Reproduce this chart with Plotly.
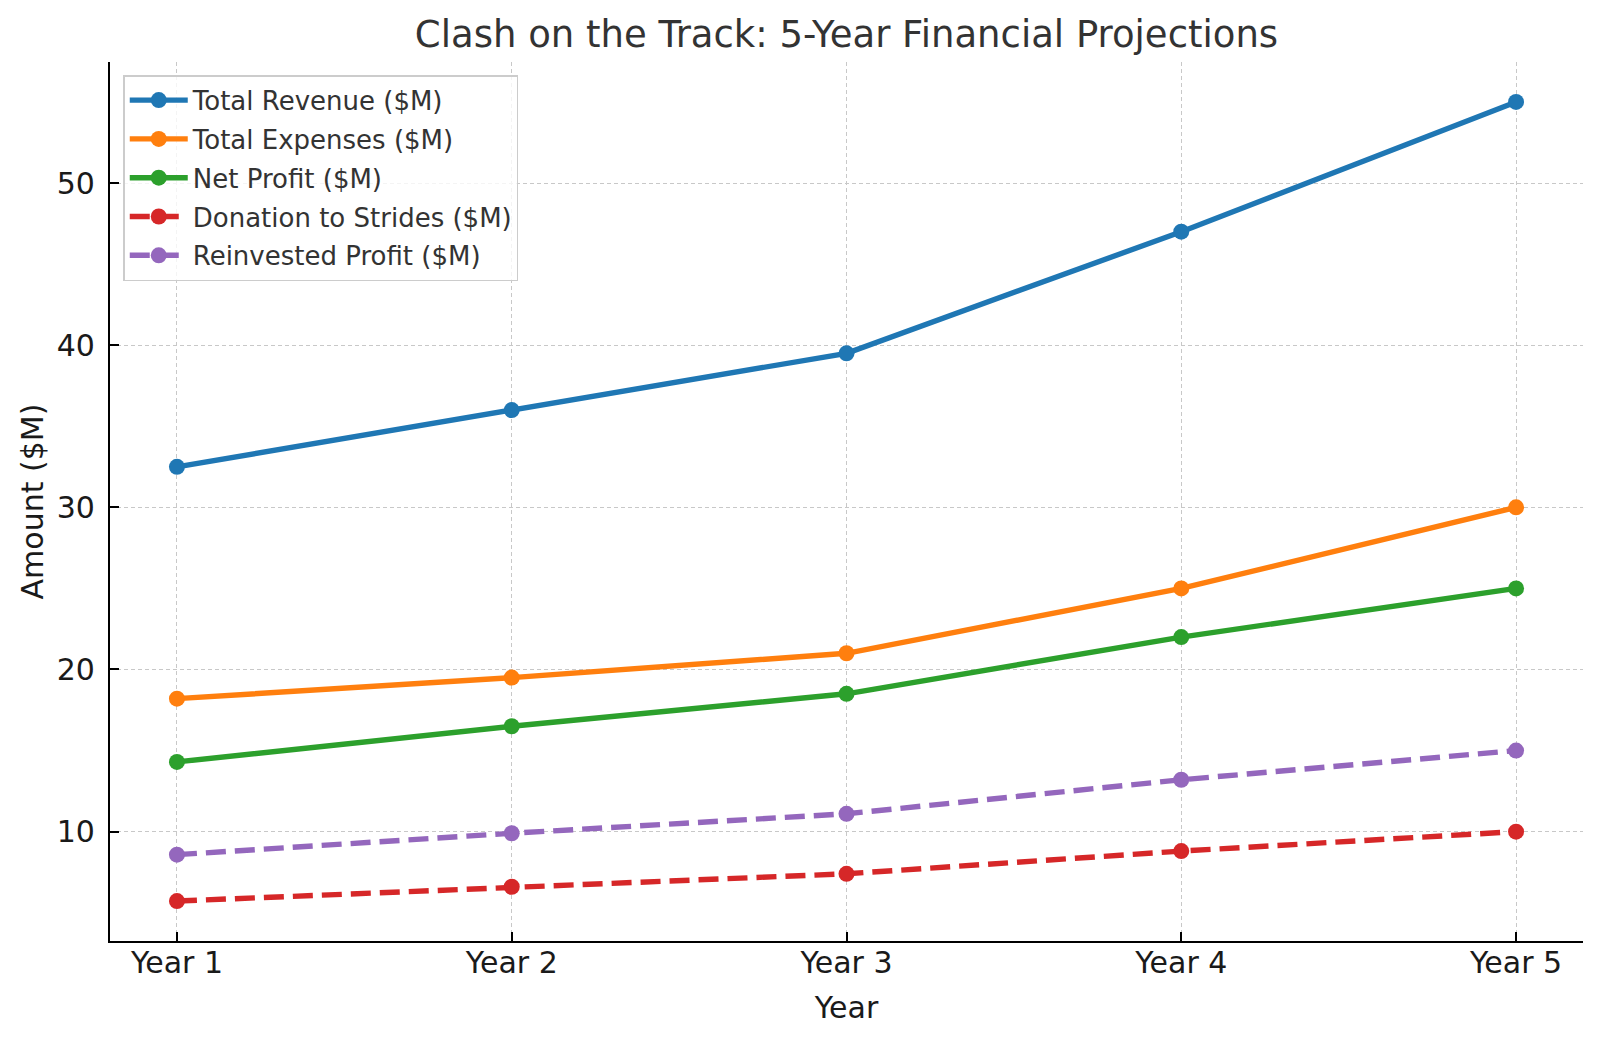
import plotly.graph_objects as go

years = ["Year 1", "Year 2", "Year 3", "Year 4", "Year 5"]
total_revenue = [32.5, 36.0, 39.5, 47.0, 55.0]
total_expenses = [18.2, 19.5, 21.0, 25.0, 30.0]
net_profit = [14.3, 16.5, 18.5, 22.0, 25.0]
donation = [5.72, 6.6, 7.4, 8.8, 10.0]
reinvested = [8.58, 9.9, 11.1, 13.2, 15.0]

series = [
    ("Total Revenue ($M)", total_revenue, "#1f77b4", "solid"),
    ("Total Expenses ($M)", total_expenses, "#ff7f0e", "solid"),
    ("Net Profit ($M)", net_profit, "#2ca02c", "solid"),
    ("Donation to Strides ($M)", donation, "#d62728", "dash"),
    ("Reinvested Profit ($M)", reinvested, "#9467bd", "dash"),
]

fig = go.Figure()
for name, vals, color, dash in series:
    fig.add_trace(go.Scatter(
        x=list(range(len(years))), y=vals, name=name, mode="lines+markers",
        legendgroup=name,
        line=dict(color=color, width=5.4, dash="solid" if dash == "solid" else "20px,9px"),
        marker=dict(color=color, size=16),
    ))

font = "DejaVu Sans"
L, R, T, B = 110, 17, 62, 99
fig.update_layout(
    width=1600, height=1040,
    paper_bgcolor="white", plot_bgcolor="white",
    margin=dict(l=L, r=R, t=T, b=B),
    title=dict(text="Clash on the Track: 5-Year Financial Projections",
               x=(L + 1600 - R) / 2 / 1600, xanchor="center", y=1 - 34 / 1040, yanchor="middle",
               font=dict(family=font, size=37, color="#333333")),
    font=dict(family=font, color="#262626"),
    legend=dict(x=0.009, y=0.985, xanchor="left", yanchor="top",
                bgcolor="rgba(255,255,255,0.8)", bordercolor="#cccccc", borderwidth=1.5,
                font=dict(family=font, size=26, color="#333333"),
                itemwidth=58, tracegroupgap=2),
    showlegend=True,
)
axis_common = dict(
    showline=True, linecolor="black", linewidth=2.2, mirror=False,
    ticks="inside", ticklen=9, tickwidth=2.2, tickcolor="black",
    tickfont=dict(family=font, size=30, color="#1a1a1a"),
    showgrid=True, gridcolor="#c8c8c8", griddash="4px,3px", gridwidth=1.3,
    zeroline=False,
)
fig.update_xaxes(
    range=[-0.2, 4.2], tickmode="array", tickvals=list(range(len(years))), ticktext=years,
    ticklabelstandoff=-6,
    title=dict(text="Year", font=dict(family=font, size=30, color="#1a1a1a"), standoff=18),
    **axis_common,
)
fig.update_yaxes(
    range=[3.256, 57.464], tickmode="array", tickvals=[10, 20, 30, 40, 50],
    ticklabelstandoff=7,
    title=dict(text="Amount ($M)", font=dict(family=font, size=30, color="#1a1a1a"), standoff=4),
    **axis_common,
)
fig.write_html("out.html", config={"displayModeBar": False},
               post_script="document.body.style.margin='0px';document.body.style.overflow='hidden';")
